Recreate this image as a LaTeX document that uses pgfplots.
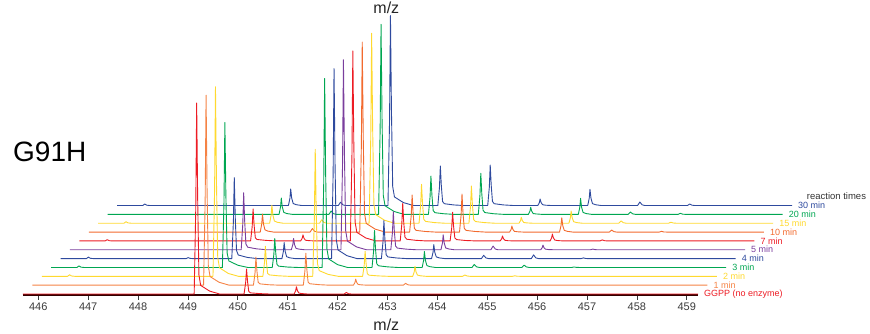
\documentclass[border=0pt]{standalone}
\usepackage{fontspec}
\setmainfont{Liberation Sans}
\usepackage{pgfplots}
\usepackage{pgfplotstable}
\pgfplotsset{compat=1.18}
\definecolor{cred}{HTML}{ED1C24}
\definecolor{corangeA}{HTML}{F58345}
\definecolor{corangeB}{HTML}{F26A2E}
\definecolor{cyellow}{HTML}{FFD92F}
\definecolor{cgreen}{HTML}{00A651}
\definecolor{cblue}{HTML}{2E4A9E}
\definecolor{cpurple}{HTML}{7A3E9D}
\definecolor{ctick}{HTML}{3A3A3A}

\pgfplotstableread{
x y
445.693 0
449.125 0
449.157 86
449.175 191
449.195 95.5
449.220 19.1
449.255 8.6
449.315 6.7
449.435 2.9
449.635 0
450.125 0
450.157 11.3
450.175 25
450.195 12.5
450.220 2.5
450.255 1.1
450.315 0.9
450.435 0.4
450.635 0
451.130 0
451.160 3.3
451.175 7.3
451.195 3.3
451.225 0.9
451.285 0.4
451.395 0
452.130 0
452.175 1.5
452.220 0.3
452.275 0
459.226 0
}\tzero

\pgfplotstableread{
x y
445.693 0
449.125 0
449.157 85.5
449.175 190
449.195 95
449.220 19
449.255 8.6
449.315 6.7
449.435 2.9
449.635 0
450.125 0
450.157 12.6
450.175 28
450.195 14
450.220 2.8
450.255 1.3
450.315 1
450.435 0.4
450.635 0
451.125 0
451.157 14.4
451.175 32
451.195 16
451.220 3.2
451.255 1.4
451.315 1.1
451.435 0.5
451.635 0
452.130 0
452.160 2.7
452.175 6
452.195 2.7
452.225 0.7
452.285 0.3
452.395 0
453.130 0
453.175 1.8
453.220 0.4
453.275 0
459.226 0
}\tone

\pgfplotstableread{
x y
445.693 0
446.210 0
446.250 1.5
446.290 0.3
446.350 0
449.125 0
449.157 85.3
449.175 189.6
449.195 94.8
449.220 19
449.255 8.5
449.315 6.6
449.435 2.8
449.635 0
450.125 0
450.157 13.5
450.175 30
450.195 15
450.220 3
450.255 1.4
450.315 1.1
450.435 0.5
450.635 0
451.125 0
451.157 57.2
451.175 127
451.195 63.5
451.220 12.7
451.255 5.7
451.315 4.4
451.435 1.9
451.635 0
452.125 0
452.157 11.3
452.175 25
452.195 12.5
452.220 2.5
452.255 1.1
452.315 0.9
452.435 0.4
452.635 0
453.130 0
453.160 4.5
453.175 10
453.195 4.5
453.225 1.2
453.285 0.5
453.395 0
454.130 0
454.175 1.3
454.220 0.3
454.275 0
455.130 0
455.175 0.5
455.220 0.1
455.275 0
459.226 0
}\ttwo

\pgfplotstableread{
x y
445.693 0
446.210 0
446.250 1.5
446.290 0.3
446.350 0
449.125 0
449.157 65.3
449.175 145
449.195 72.5
449.220 14.5
449.255 6.5
449.315 5.1
449.435 2.2
449.635 0
450.125 0
450.157 13.1
450.175 29
450.195 14.5
450.220 2.9
450.255 1.3
450.315 1
450.435 0.4
450.635 0
451.125 0
451.157 85.1
451.175 189
451.195 94.5
451.220 18.9
451.255 8.5
451.315 6.6
451.435 2.8
451.635 0
452.125 0
452.157 16.7
452.175 37
452.195 18.5
452.220 3.7
452.255 1.7
452.315 1.3
452.435 0.6
452.635 0
453.130 0
453.160 7.2
453.175 16
453.195 7.2
453.225 1.9
453.285 0.8
453.395 0
454.130 0
454.175 3
454.220 0.6
454.275 0
455.130 0
455.175 2.3
455.220 0.5
455.275 0
456.130 0
456.175 0.5
456.220 0.1
456.275 0
459.226 0
}\tthree

\pgfplotstableread{
x y
445.693 0
446.210 0
446.250 1.5
446.290 0.3
446.350 0
448.210 0
448.250 1
448.290 0.2
448.350 0
449.125 0
449.157 36.5
449.175 81
449.195 40.5
449.220 8.1
449.255 3.6
449.315 2.8
449.435 1.2
449.635 0
450.130 0
450.160 7.2
450.175 16
450.195 7.2
450.225 1.9
450.285 0.8
450.395 0
451.125 0
451.157 85.5
451.175 190
451.195 95
451.220 19
451.255 8.6
451.315 6.7
451.435 2.9
451.635 0
452.125 0
452.157 17.1
452.175 38
452.195 19
452.220 3.8
452.255 1.7
452.315 1.3
452.435 0.6
452.635 0
453.130 0
453.160 6.3
453.175 14
453.195 6.3
453.225 1.7
453.285 0.7
453.395 0
454.130 0
454.175 3.3
454.220 0.7
454.275 0
455.130 0
455.175 3.7
455.220 0.7
455.275 0
456.130 0
456.175 0.7
456.220 0.1
456.275 0
459.226 0
}\tfour

\pgfplotstableread{
x y
445.693 0
449.125 0
449.157 25.7
449.175 57
449.195 28.5
449.220 5.7
449.255 2.6
449.315 2
449.435 0.9
449.635 0
450.130 0
450.160 5.1
450.175 11.3
450.195 5.1
450.225 1.4
450.285 0.6
450.395 0
451.125 0
451.157 85.5
451.175 190
451.195 95
451.220 19
451.255 8.6
451.315 6.7
451.435 2.9
451.635 0
452.125 0
452.157 17.1
452.175 38
452.195 19
452.220 3.8
452.255 1.7
452.315 1.3
452.435 0.6
452.635 0
453.130 0
453.160 6.8
453.175 15
453.195 6.8
453.225 1.8
453.285 0.8
453.395 0
454.130 0
454.175 3.7
454.220 0.7
454.275 0
455.130 0
455.160 2.1
455.175 4.7
455.195 2.1
455.225 0.6
455.285 0.2
455.395 0
456.130 0
456.175 0.7
456.220 0.1
456.275 0
459.226 0
}\tfive

\pgfplotstableread{
x y
445.693 0
446.210 0
446.250 1.2
446.290 0.2
446.350 0
449.125 0
449.157 14.4
449.175 32
449.195 16
449.220 3.2
449.255 1.4
449.315 1.1
449.435 0.5
449.635 0
450.130 0
450.160 2.7
450.175 6
450.195 2.7
450.225 0.7
450.285 0.3
450.395 0
451.125 0
451.157 85.5
451.175 190
451.195 95
451.220 19
451.255 8.6
451.315 6.7
451.435 2.9
451.635 0
452.125 0
452.157 16.9
452.175 37.6
452.195 18.8
452.220 3.8
452.255 1.7
452.315 1.3
452.435 0.6
452.635 0
453.125 0
453.157 12.9
453.175 28.6
453.195 14.3
453.220 2.9
453.255 1.3
453.315 1
453.435 0.4
453.635 0
454.130 0
454.160 2.2
454.175 4.9
454.195 2.2
454.225 0.6
454.285 0.2
454.395 0
455.130 0
455.160 3.1
455.175 6.9
455.195 3.1
455.225 0.8
455.285 0.3
455.395 0
456.130 0
456.175 1
456.220 0.2
456.275 0
459.226 0
}\tsix

\pgfplotstableread{
x y
445.693 0
449.130 0
449.160 8.1
449.175 18
449.195 8.1
449.225 2.2
449.285 0.9
449.395 0
450.130 0
450.175 3.5
450.220 0.7
450.275 0
451.125 0
451.157 85.5
451.175 190
451.195 95
451.220 19
451.255 8.6
451.315 6.7
451.435 2.9
451.635 0
452.125 0
452.157 16.7
452.175 37
452.195 18.5
452.220 3.7
452.255 1.7
452.315 1.3
452.435 0.6
452.635 0
453.125 0
453.157 17.1
453.175 38
453.195 19
453.220 3.8
453.255 1.7
453.315 1.3
453.435 0.6
453.635 0
454.130 0
454.160 2.7
454.175 6
454.195 2.7
454.225 0.7
454.285 0.3
454.395 0
455.130 0
455.160 6.4
455.175 14.3
455.195 6.4
455.225 1.7
455.285 0.7
455.395 0
456.130 0
456.175 2
456.220 0.4
456.275 0
457.130 0
457.175 0.7
457.220 0.1
457.275 0
459.226 0
}\tseven

\pgfplotstableread{
x y
445.693 0
446.210 0
446.250 1.5
446.290 0.3
446.350 0
449.130 0
449.160 8.1
449.175 18
449.195 8.1
449.225 2.2
449.285 0.9
449.395 0
450.130 0
450.175 3.5
450.220 0.7
450.275 0
451.125 0
451.157 85.5
451.175 190
451.195 95
451.220 19
451.255 8.6
451.315 6.7
451.435 2.9
451.635 0
452.125 0
452.157 17.5
452.175 38.9
452.195 19.5
452.220 3.9
452.255 1.8
452.315 1.4
452.435 0.6
452.635 0
453.125 0
453.157 16.7
453.175 37.2
453.195 18.6
453.220 3.7
453.255 1.7
453.315 1.3
453.435 0.6
453.635 0
454.130 0
454.160 2.7
454.175 5.9
454.195 2.7
454.225 0.7
454.285 0.3
454.395 0
455.130 0
455.160 5.5
455.175 12.2
455.195 5.5
455.225 1.5
455.285 0.6
455.395 0
456.130 0
456.175 2.3
456.220 0.5
456.275 0
457.130 0
457.175 1
457.220 0.2
457.275 0
459.226 0
}\teight

\pgfplotstableread{
x y
445.693 0
449.130 0
449.160 7.4
449.175 16.4
449.195 7.4
449.225 2
449.285 0.8
449.395 0
450.130 0
450.175 3.3
450.220 0.7
450.275 0
451.125 0
451.157 85.5
451.175 190
451.195 95
451.220 19
451.255 8.6
451.315 6.7
451.435 2.9
451.635 0
452.125 0
452.157 17.2
452.175 38.3
452.195 19.2
452.220 3.8
452.255 1.7
452.315 1.3
452.435 0.6
452.635 0
453.125 0
453.157 18.5
453.175 41
453.195 20.5
453.220 4.1
453.255 1.8
453.315 1.4
453.435 0.6
453.635 0
454.130 0
454.160 3.2
454.175 7
454.195 3.2
454.225 0.8
454.285 0.4
454.395 0
455.130 0
455.160 7.2
455.175 16
455.195 7.2
455.225 1.9
455.285 0.8
455.395 0
456.130 0
456.175 2.3
456.220 0.5
456.275 0
457.130 0
457.175 1
457.220 0.2
457.275 0
459.226 0
}\tnine

\pgfplotstableread{
x y
445.693 0
446.210 0
446.250 1.5
446.290 0.3
446.350 0
449.130 0
449.160 7.4
449.175 16.5
449.195 7.4
449.225 2
449.285 0.8
449.395 0
450.130 0
450.175 3.3
450.220 0.7
450.275 0
451.125 0
451.157 85.5
451.175 190
451.195 95
451.220 19
451.255 8.6
451.315 6.7
451.435 2.9
451.635 0
452.125 0
452.157 17.8
452.175 39.5
452.195 19.8
452.220 4
452.255 1.8
452.315 1.4
452.435 0.6
452.635 0
453.125 0
453.157 18.2
453.175 40.5
453.195 20.3
453.220 4.1
453.255 1.8
453.315 1.4
453.435 0.6
453.635 0
454.130 0
454.160 2.9
454.175 6.5
454.195 2.9
454.225 0.8
454.285 0.3
454.395 0
455.130 0
455.160 7.3
455.175 16.2
455.195 7.3
455.225 1.9
455.285 0.8
455.395 0
456.130 0
456.175 3.5
456.220 0.7
456.275 0
457.130 0
457.175 1.5
457.220 0.3
457.275 0
459.226 0
}\tten

\newcommand{\trace}[3]{%
  \addplot[#2, line width=0.9pt, line join=round, mark=none]
    table[x expr=\thisrow{x}+#1*0.1885, y expr=\thisrow{y}+#1*8.85] {#3};
  \node[#2, anchor=west, inner sep=0pt, font=\fontsize{9}{10}\selectfont]
    at (axis cs:{459.346+#1*0.1885},{#1*8.85}) {\tracelabel{#1}};
}
\newcommand{\tracelabel}[1]{%
  \ifcase#1 GGPP (no enzyme)\or 1 min\or 2 min\or 3 min\or 4 min\or 5 min\or 7 min\or 10 min\or 15 min\or 20 min\or 30 min\fi}

\begin{document}
\begin{tikzpicture}
\begin{axis}[
  at={(0,0)}, anchor=south west,
  scale only axis, width=870pt, height=333pt,
  xmin=445.2322, xmax=462.674, ymin=-39, ymax=294,
  hide axis, clip=false,
]
% x axis line
\addplot[black!80!red, line width=1.6pt, mark=none] coordinates {(445.693,-1.2) (459.226,-1.2)};
\pgfplotsinvokeforeach{446,...,459}{
  \addplot[ctick, line width=0.7pt, mark=none] coordinates {(#1,-1.5) (#1,-5.5)};
  \node[ctick, inner sep=0pt, font=\fontsize{11}{13}\selectfont] at (axis cs:#1,-12.7) {#1};
}
\trace{10}{cblue}{\tten}
\trace{9}{cgreen}{\tnine}
\trace{8}{cyellow}{\teight}
\trace{7}{corangeB}{\tseven}
\trace{6}{cred}{\tsix}
\trace{5}{cpurple}{\tfive}
\trace{4}{cblue}{\tfour}
\trace{3}{cgreen}{\tthree}
\trace{2}{cyellow}{\ttwo}
\trace{1}{corangeA}{\tone}
\trace{0}{cred}{\tzero}
\node[anchor=west, inner sep=0pt, text=black!80, font=\fontsize{9.5}{11}\selectfont] at (axis cs:461.405,98) {reaction times};
\node[anchor=west, inner sep=0pt, font=\fontsize{28}{30}\selectfont] at (axis cs:445.493,142.3) {G91H};
\node[inner sep=0pt, text=black!85, font=\fontsize{16}{18}\selectfont] at (axis cs:452.977,-30.8) {m/z};
\node[inner sep=0pt, text=black!85, font=\fontsize{16}{18}\selectfont] at (axis cs:452.977,286.5) {m/z};
\end{axis}
\pgfresetboundingbox
\path[use as bounding box] (0,0) rectangle (870pt,333pt);
\end{tikzpicture}
\end{document}
